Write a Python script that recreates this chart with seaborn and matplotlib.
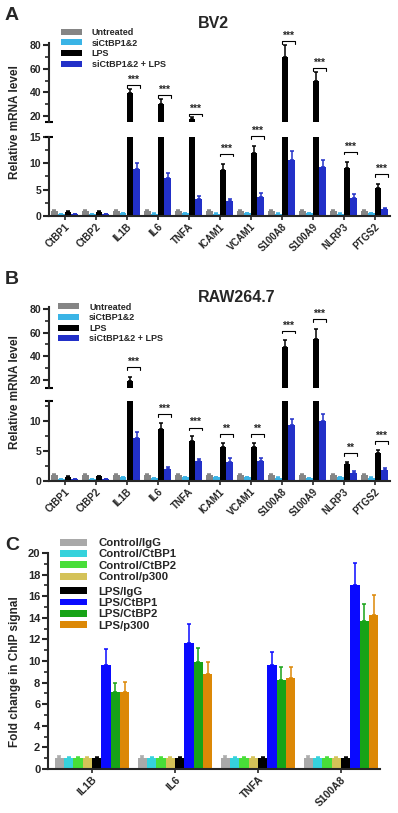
import numpy as np
import pandas as pd
import matplotlib
matplotlib.use("Agg")
import matplotlib.pyplot as plt
from matplotlib.patches import Patch
import seaborn as sns

# ---- data ----
genes = ["CtBP1", "CtBP2", "IL1B", "IL6", "TNFA", "ICAM1", "VCAM1",
         "S100A8", "S100A9", "NLRP3", "PTGS2"]
conditions = ["Untreated", "siCtBP1&2", "LPS", "siCtBP1&2 + LPS"]

# panel A: BV2
bv2_untreated = [1.0, 1.0, 1.0, 1.0, 1.0, 1.0, 1.0, 1.0, 1.0, 1.0, 1.0]
bv2_untreated_err = [0.12, 0.1, 0.1, 0.1, 0.1, 0.1, 0.1, 0.1, 0.1, 0.1, 0.1]
bv2_si = [0.3, 0.3, 0.5, 0.45, 0.5, 0.45, 0.5, 0.45, 0.5, 0.45, 0.5]
bv2_si_err = [0.05, 0.05, 0.08, 0.08, 0.08, 0.08, 0.08, 0.08, 0.08, 0.08, 0.08]
bv2_lps = [0.8, 0.8, 39.2, 29.9, 17.2, 8.7, 11.9, 70.1, 49.9, 9.2, 5.3]
bv2_lps_err = [0.15, 0.15, 3.6, 4.5, 1.7, 1.2, 1.3, 10.2, 7.6, 1.1, 0.7]
bv2_si_lps = [0.3, 0.3, 9.0, 7.2, 3.3, 2.8, 3.7, 10.6, 9.3, 3.5, 1.3]
bv2_si_lps_err = [0.05, 0.05, 1.1, 1.0, 0.5, 0.5, 0.6, 1.7, 1.3, 0.6, 0.2]
bv2_sig = ["", "", "***", "***", "***", "***", "***", "***", "***", "***", "***"]

# panel B: RAW264.7
raw_untreated = [1.0, 1.0, 1.0, 1.0, 1.0, 1.0, 1.0, 1.0, 1.0, 1.0, 1.0]
raw_untreated_err = [0.12, 0.12, 0.1, 0.1, 0.1, 0.1, 0.1, 0.1, 0.1, 0.1, 0.1]
raw_si = [0.35, 0.35, 0.6, 0.5, 0.6, 0.6, 0.6, 0.55, 0.5, 0.6, 0.55]
raw_si_err = [0.05, 0.05, 0.08, 0.08, 0.08, 0.08, 0.08, 0.08, 0.08, 0.08, 0.08]
raw_lps = [0.7, 0.8, 19.2, 8.6, 6.6, 5.7, 5.7, 47.8, 54.4, 2.8, 4.6]
raw_lps_err = [0.1, 0.1, 3.6, 1.1, 0.9, 0.7, 0.7, 5.6, 9.1, 0.4, 0.6]
raw_si_lps = [0.3, 0.3, 7.2, 2.0, 3.3, 3.2, 3.4, 9.3, 10.0, 1.4, 1.8]
raw_si_lps_err = [0.05, 0.05, 0.9, 0.4, 0.3, 0.6, 0.5, 1.0, 1.2, 0.2, 0.3]
raw_sig = ["", "", "***", "***", "***", "**", "**", "***", "***", "**", "***"]

# panel C: ChIP
chip_genes = ["IL1B", "IL6", "TNFA", "S100A8"]
chip_groups = ["Control/IgG", "Control/CtBP1", "Control/CtBP2", "Control/p300",
               "LPS/IgG", "LPS/CtBP1", "LPS/CtBP2", "LPS/p300"]
chip_values = {
    "Control/IgG": [1.0, 1.0, 1.0, 1.0],
    "Control/CtBP1": [1.0, 1.0, 1.0, 1.0],
    "Control/CtBP2": [1.0, 1.0, 1.0, 1.0],
    "Control/p300": [1.0, 1.0, 1.0, 1.0],
    "LPS/IgG": [1.0, 1.0, 1.0, 1.0],
    "LPS/CtBP1": [9.6, 11.7, 9.6, 17.0],
    "LPS/CtBP2": [7.1, 9.9, 8.2, 13.7],
    "LPS/p300": [7.1, 8.8, 8.4, 14.3],
}
chip_errors = {
    "Control/IgG": [0.2, 0.2, 0.2, 0.2],
    "Control/CtBP1": [0.15, 0.15, 0.15, 0.15],
    "Control/CtBP2": [0.15, 0.15, 0.15, 0.15],
    "Control/p300": [0.15, 0.15, 0.15, 0.15],
    "LPS/IgG": [0.1, 0.1, 0.1, 0.1],
    "LPS/CtBP1": [1.5, 1.7, 1.2, 2.1],
    "LPS/CtBP2": [0.9, 1.3, 1.2, 1.6],
    "LPS/p300": [1.0, 1.1, 1.0, 1.8],
}

mrna_palette = {"Untreated": "#858585", "siCtBP1&2": "#3ab4e6",
                "LPS": "#000000", "siCtBP1&2 + LPS": "#2230c8"}
chip_palette = {"Control/IgG": "#a9a9a9", "Control/CtBP1": "#35d2dc",
                "Control/CtBP2": "#48de38", "Control/p300": "#d4c258",
                "LPS/IgG": "#000000", "LPS/CtBP1": "#0a0aff",
                "LPS/CtBP2": "#17a317", "LPS/p300": "#dc8806"}

sns.set_style("ticks")
plt.rcParams["font.family"] = ["Liberation Sans", "DejaVu Sans"]
plt.rcParams["font.weight"] = "bold"
plt.rcParams["axes.labelweight"] = "bold"
plt.rcParams["axes.linewidth"] = 1.5

W, H = 398, 813
fig = plt.figure(figsize=(W / 100, H / 100), dpi=100)


def px_axes(left, top, right, bottom):
    return fig.add_axes([left / W, 1 - bottom / H, (right - left) / W, (bottom - top) / H])


def style_axis(ax, show_x, ysize=7.5):
    sns.despine(ax=ax, bottom=not show_x)
    ax.tick_params(axis="y", which="major", length=4.5, width=1.5, labelsize=ysize, pad=1)
    ax.tick_params(axis="y", which="minor", length=2.8, width=1.2)
    ax.set_xlabel("")
    ax.set_ylabel("")
    if show_x:
        ax.tick_params(axis="x", length=3, width=1.2, labelsize=7, pad=1)
    else:
        ax.tick_params(axis="x", bottom=False, labelbottom=False)
    for lab in ax.get_yticklabels():
        lab.set_fontweight("bold")


def mrna_panel(top_px, up_bottom_px, low_top_px, low_bottom_px, brk_up, brk_low,
               series, sig, pad_low, pad_up, low_ticks, minor_low, leg_anchor):
    df = pd.DataFrame({
        "gene": np.tile(genes, 4),
        "condition": np.repeat(conditions, len(genes)),
        "value": np.concatenate([s[0] for s in series]),
    })
    errs = {c: s[1] for c, s in zip(conditions, series)}
    ax_up = px_axes(49, top_px, 390, up_bottom_px)
    ax_low = px_axes(49, low_top_px, 390, low_bottom_px)
    for ax in (ax_up, ax_low):
        sns.barplot(data=df, x="gene", y="value", hue="condition", order=genes,
                    hue_order=conditions, palette=mrna_palette, width=0.87,
                    errorbar=None, legend=False, saturation=1, linewidth=0, ax=ax)
        for cont, cond in zip(ax.containers, conditions):
            xs = [b.get_x() + b.get_width() / 2 for b in cont]
            hs = [b.get_height() for b in cont]
            ax.errorbar(xs, hs, yerr=[np.zeros(len(hs)), errs[cond]], fmt="none",
                        ecolor=mrna_palette[cond], elinewidth=1.1, capsize=1.6, capthick=1.1)
        ax.set_xlim(-0.5, len(genes) - 0.5)
    ax_up.set_ylim(brk_up, 82)
    ax_up.set_yticks([20, 40, 60, 80])
    ax_up.set_yticks([30, 50, 70], minor=True)
    ax_low.set_ylim(0, brk_low)
    ax_low.set_yticks(low_ticks)
    ax_low.set_yticks(minor_low, minor=True)
    style_axis(ax_up, False)
    style_axis(ax_low, True)
    ax_low.set_xticks(range(len(genes)))
    ax_low.set_xticklabels(genes, rotation=45, ha="right", rotation_mode="anchor",
                           fontweight="bold")
    # break caps on the y axis
    for ax, yy in ((ax_up, 0), (ax_low, 1)):
        ax.plot([-0.012, 0.012], [yy, yy], transform=ax.transAxes, color="black",
                lw=1.5, clip_on=False, solid_capstyle="butt")

    # significance brackets between LPS and siCtBP1&2 + LPS
    black = ax_low.containers[2]
    blue = ax_low.containers[3]
    lps_v, lps_e = series[2]
    for i, lab in enumerate(sig):
        if not lab:
            continue
        top = lps_v[i] + lps_e[i]
        if top + pad_low <= brk_low + 0.3:
            ax, y = ax_low, top + pad_low
        else:
            ax, y = ax_up, max(top, brk_up) + pad_up
        ylo, yhi = ax.get_ylim()
        ppu = ax.bbox.height / (yhi - ylo)
        x0 = black[i].get_x()
        x1 = blue[i].get_x() + blue[i].get_width()
        t = 2.5 / ppu
        ax.plot([x0, x0, x1, x1], [y - t, y, y, y - t], color="black", lw=0.8,
                clip_on=False)
        ax.text((x0 + x1) / 2, y + 0.3 / ppu, lab, ha="center", va="bottom",
                fontsize=7.5, fontweight="bold", clip_on=False)

    handles = [Patch(facecolor=mrna_palette[c], edgecolor="none") for c in conditions]
    ax_up.legend(handles, conditions, loc="upper left", bbox_to_anchor=leg_anchor,
                 frameon=False, handlelength=2.3, handleheight=0.65,
                 labelspacing=0.18, handletextpad=1.1, borderaxespad=0,
                 prop={"weight": "bold", "size": 6.5})
    return ax_up, ax_low


mrna_panel(42.6, 122, 137, 216, 15, 15,
           [(bv2_untreated, bv2_untreated_err), (bv2_si, bv2_si_err),
            (bv2_lps, bv2_lps_err), (bv2_si_lps, bv2_si_lps_err)],
           bv2_sig, 1.9, 3.0, [0, 5, 10, 15], [2.5, 7.5, 12.5], (0.025, 1.23))
fig.text(213 / W, 1 - 24 / H, "BV2", ha="center", va="center", fontsize=11.5,
         fontweight="bold")
fig.text(5 / W, 1 - 15 / H, "A", ha="left", va="center", fontsize=14,
         fontweight="bold")
fig.text(15 / W, 1 - 122 / H, "Relative mRNA level", rotation=90, ha="center",
         va="center", fontsize=8.5, fontweight="bold")

mrna_panel(306.6, 387.7, 401.2, 481, 13.5, 13.3,
           [(raw_untreated, raw_untreated_err), (raw_si, raw_si_err),
            (raw_lps, raw_lps_err), (raw_si_lps, raw_si_lps_err)],
           raw_sig, 1.4, 8.0, [0, 5, 10], [2.5, 7.5, 12.5], (0.017, 1.095))
fig.text(237 / W, 1 - 298 / H, "RAW264.7", ha="center", va="center",
         fontsize=11.5, fontweight="bold")
fig.text(5 / W, 1 - 280 / H, "B", ha="left", va="center", fontsize=14,
         fontweight="bold")
fig.text(15 / W, 1 - 392 / H, "Relative mRNA level", rotation=90, ha="center",
         va="center", fontsize=8.5, fontweight="bold")

# ---- panel C: ChIP ----
chip_df = pd.DataFrame({
    "gene": np.tile(chip_genes, len(chip_groups)),
    "group": np.repeat(chip_groups, len(chip_genes)),
    "value": np.concatenate([chip_values[g] for g in chip_groups]),
})
ax_c = px_axes(48, 553, 380, 769)
sns.barplot(data=chip_df, x="gene", y="value", hue="group", order=chip_genes,
            hue_order=chip_groups, palette=chip_palette, width=0.9, errorbar=None,
            legend=False, saturation=1, linewidth=0, ax=ax_c)
for cont, grp in zip(ax_c.containers, chip_groups):
    xs = [b.get_x() + b.get_width() / 2 for b in cont]
    hs = [b.get_height() for b in cont]
    ax_c.errorbar(xs, hs, yerr=[np.zeros(len(hs)), chip_errors[grp]], fmt="none",
                  ecolor=chip_palette[grp], elinewidth=1.1, capsize=1.6, capthick=1.1)
ax_c.set_xlim(-0.53, 3.47)
ax_c.set_ylim(0, 20)
ax_c.set_yticks(range(0, 21, 2))
ax_c.set_yticks(range(1, 20, 2), minor=True)
style_axis(ax_c, True, ysize=8)
ax_c.set_xticks(range(len(chip_genes)))
ax_c.set_xticklabels(chip_genes, rotation=45, ha="right", rotation_mode="anchor",
                     fontweight="bold", fontsize=7.5)
chip_handles = [Patch(facecolor=chip_palette[g], edgecolor="none") for g in chip_groups]
leg_kw = dict(loc="upper left", frameon=False, handlelength=2.4, handleheight=0.55,
              labelspacing=0.12, handletextpad=1.0, borderaxespad=0,
              prop={"weight": "bold", "size": 8.2})
leg1 = ax_c.legend(chip_handles[:4], chip_groups[:4], bbox_to_anchor=(0.022, 1.09),
                   **leg_kw)
ax_c.add_artist(leg1)
ax_c.legend(chip_handles[4:], chip_groups[4:], bbox_to_anchor=(0.022, 0.865), **leg_kw)
fig.text(15 / W, 1 - 672 / H, "Fold change in ChIP signal", rotation=90,
         ha="center", va="center", fontsize=8.5, fontweight="bold")
fig.text(5 / W, 1 - 546 / H, "C", ha="left", va="center", fontsize=14,
         fontweight="bold")

fig.savefig("out.png", dpi=100)
